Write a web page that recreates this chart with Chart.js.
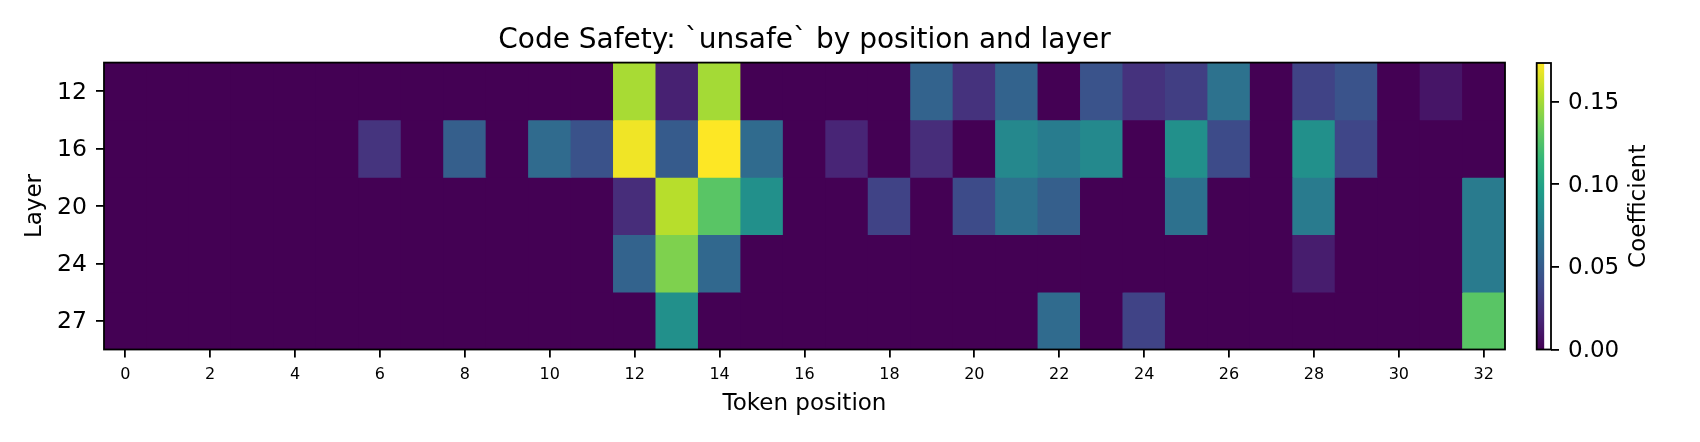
<!DOCTYPE html>
<html><head><meta charset="utf-8">
<script src="https://cdn.jsdelivr.net/npm/chart.js@4/dist/chart.umd.min.js"></script>
<style>
html,body{margin:0;padding:0;background:#fff;overflow:hidden}
#wrap{position:relative;width:1700px;height:442px}
#main{position:absolute;left:0;top:0}
#cbar{position:absolute;left:1500px;top:0}
</style></head><body>
<div id="wrap"><canvas id="main" width="1700" height="442"></canvas><canvas id="cbar" width="200" height="442"></canvas></div>
<script>
// ---- data ----
const positions = [0,1,2,3,4,5,6,7,8,9,10,11,12,13,14,15,16,17,18,19,20,21,22,23,24,25,26,27,28,29,30,31,32];
const layers = ['12','16','20','24','27'];
const layer12 = [0,0,0,0,0,0,0,0,0,0,0,0,0.151,0.016,0.150,0,0,0,0,0.055,0.025,0.055,0,0.045,0.025,0.032,0.065,0,0.035,0.045,0,0.010,0];
const layer16 = [0,0,0,0,0,0,0.026,0,0.052,0,0.060,0.044,0.170,0.050,0.1735,0.060,0,0.018,0,0.022,0,0.081,0.073,0.082,0,0.087,0.040,0,0.087,0.037,0,0,0];
const layer20 = [0,0,0,0,0,0,0,0,0,0,0,0,0.022,0.155,0.128,0.087,0,0,0.035,0,0.040,0.0645,0.052,0,0,0.0645,0,0,0.072,0,0,0,0.072];
const layer24 = [0,0,0,0,0,0,0,0,0,0,0,0,0.055,0.1395,0.058,0,0,0,0,0,0,0,0,0,0,0,0,0,0.014,0,0,0,0.072];
const layer27 = [0,0,0,0,0,0,0,0,0,0,0,0,0,0.087,0,0,0,0,0,0,0,0,0.060,0,0.035,0,0,0,0,0,0,0,0.128];
const xTicks = [0,2,4,6,8,10,12,14,16,18,20,22,24,26,28,30,32];
const cbTicks = [0,0.05,0.10,0.15];
const vmin = 0;
const vmax = 0.1735;
const rows = [layer12, layer16, layer20, layer24, layer27];

// ---- viridis colormap ----
const VIR = ['#440154','#482878','#3e4989','#31688e','#26828e','#1f9e89','#35b779','#6dcd59','#b4de2c','#fde725'];
function hexRgb(h){return [parseInt(h.slice(1,3),16),parseInt(h.slice(3,5),16),parseInt(h.slice(5,7),16)];}
const VIRRGB = VIR.map(hexRgb);
function viridis(t){
  t = Math.max(0, Math.min(1, t));
  const p = t * (VIRRGB.length - 1);
  const i = Math.min(Math.floor(p), VIRRGB.length - 2);
  const f = p - i;
  const a = VIRRGB[i], b = VIRRGB[i+1];
  return 'rgb(' + [0,1,2].map(k => Math.round(a[k] + (b[k]-a[k])*f)).join(',') + ')';
}
const colorOf = v => viridis((v - vmin) / (vmax - vmin));

const FONT = "'DejaVu Sans', sans-serif";
Chart.defaults.font.family = FONT;
Chart.defaults.color = '#000';
Chart.defaults.animation = false;

const LW = 1.8;

const datasets = rows.map((vals, r) => ({
  label: 'Layer ' + layers[r],
  data: positions.map((p, i) => ({x: p, y: [r - 0.505, r + 0.505], v: vals[i]})),
  backgroundColor: vals.map(colorOf),
  borderWidth: 0,
  barPercentage: 1.02,
  categoryPercentage: 1.0,
  grouped: false
}));

const framePlugin = {
  id: 'frame',
  beforeDatasetsDraw(chart){
    const a = chart.chartArea, c = chart.ctx;
    c.save(); c.fillStyle = colorOf(0); c.fillRect(a.left, a.top, a.right - a.left, a.bottom - a.top); c.restore();
  },
  afterDatasetsDraw(chart){
    const a = chart.chartArea, c = chart.ctx;
    c.save(); c.strokeStyle = '#000'; c.lineWidth = LW;
    c.strokeRect(a.left, a.top, a.right - a.left, a.bottom - a.top); c.restore();
  }
};

new Chart(document.getElementById('main'), {
  type: 'bar',
  data: {datasets},
  plugins: [framePlugin],
  options: {
    responsive: false,
    animation: false,
    layout: {padding: {left: 0, right: 195, top: 0, bottom: 0}},
    plugins: {
      legend: {display: false},
      tooltip: {enabled: false},
      title: {display: true, fullSize: false, text: 'Code Safety: `unsafe` by position and layer', color: '#000',
        font: {family: FONT, size: 28, weight: 'normal'}, padding: {top: 24, bottom: 5}}
    },
    scales: {
      x: {
        type: 'linear', min: -0.5, max: 32.5, offset: false,
        afterBuildTicks: s => { s.ticks = xTicks.map(v => ({value: v})); },
        afterFit: s => { s.height = 92.5; },
        ticks: {color: '#000', font: {family: FONT, size: 16}, padding: 7.5, maxRotation: 0, autoSkip: false,
          callback: v => String(v)},
        grid: {offset: false, drawOnChartArea: false, drawTicks: true, tickLength: 8, color: '#000', lineWidth: LW},
        border: {display: false},
        title: {display: true, text: 'Token position', color: '#000', font: {family: FONT, size: 23}, padding: {top: 0, bottom: 24}}
      },
      y: {
        type: 'linear', min: -0.5, max: 4.5, reverse: true,
        afterBuildTicks: s => { s.ticks = layers.map((l, i) => ({value: i})); },
        afterFit: s => { s.width = 104; },
        ticks: {color: '#000', font: {family: FONT, size: 23.5}, padding: 9, labelOffset: 1.5, autoSkip: false,
          callback: v => layers[v]},
        grid: {drawOnChartArea: false, drawTicks: true, tickLength: 8, color: '#000', lineWidth: LW},
        border: {display: false},
        title: {display: true, text: 'Layer', color: '#000', font: {family: FONT, size: 23}, padding: {top: 21, bottom: 0}}
      }
    }
  }
});

// ---- colorbar ----
const cbFrame = {
  id: 'cbframe',
  afterDatasetsDraw(chart){
    const a = chart.chartArea, c = chart.ctx;
    c.save(); c.strokeStyle = '#000'; c.lineWidth = LW;
    c.strokeRect(a.left, a.top, a.right - a.left, a.bottom - a.top); c.restore();
  },
  afterDraw(chart){
    const a = chart.chartArea, c = chart.ctx;
    c.save();
    c.translate(139.5, (a.top + a.bottom) / 2);
    c.rotate(-Math.PI / 2);
    c.font = '23px ' + FONT; c.fillStyle = '#000'; c.textAlign = 'center'; c.textBaseline = 'middle';
    c.fillText('Coefficient', 0, 0);
    c.restore();
  }
};

new Chart(document.getElementById('cbar'), {
  type: 'bar',
  data: {labels: ['cb'], datasets: [{
    data: [[vmin, vmax]],
    borderWidth: 0, barPercentage: 1, categoryPercentage: 1,
    backgroundColor: ctx => {
      const chart = ctx.chart, a = chart.chartArea;
      if (!a) return colorOf(0);
      const ys = chart.scales.y;
      const g = chart.ctx.createLinearGradient(0, ys.getPixelForValue(vmin), 0, ys.getPixelForValue(vmax));
      VIR.forEach((c, i) => g.addColorStop(i / (VIR.length - 1), c));
      return g;
    }
  }]},
  plugins: [cbFrame],
  options: {
    responsive: false,
    animation: false,
    layout: {padding: {left: 36.7, right: 0, top: 63, bottom: 92.5}},
    plugins: {legend: {display: false}, tooltip: {enabled: false}, title: {display: false}},
    scales: {
      x: {display: false, offset: false},
      y: {
        position: 'right', type: 'linear', min: vmin, max: vmax,
        afterBuildTicks: s => { s.ticks = cbTicks.map(v => ({value: v})); },
        afterFit: s => { s.width = 149; },
        ticks: {color: '#000', font: {family: FONT, size: 23}, padding: 9, labelOffset: 1.5, callback: v => v.toFixed(2)},
        grid: {drawOnChartArea: false, drawTicks: true, tickLength: 8, color: '#000', lineWidth: LW},
        border: {display: false}
      }
    }
  }
});
</script>
</body></html>
